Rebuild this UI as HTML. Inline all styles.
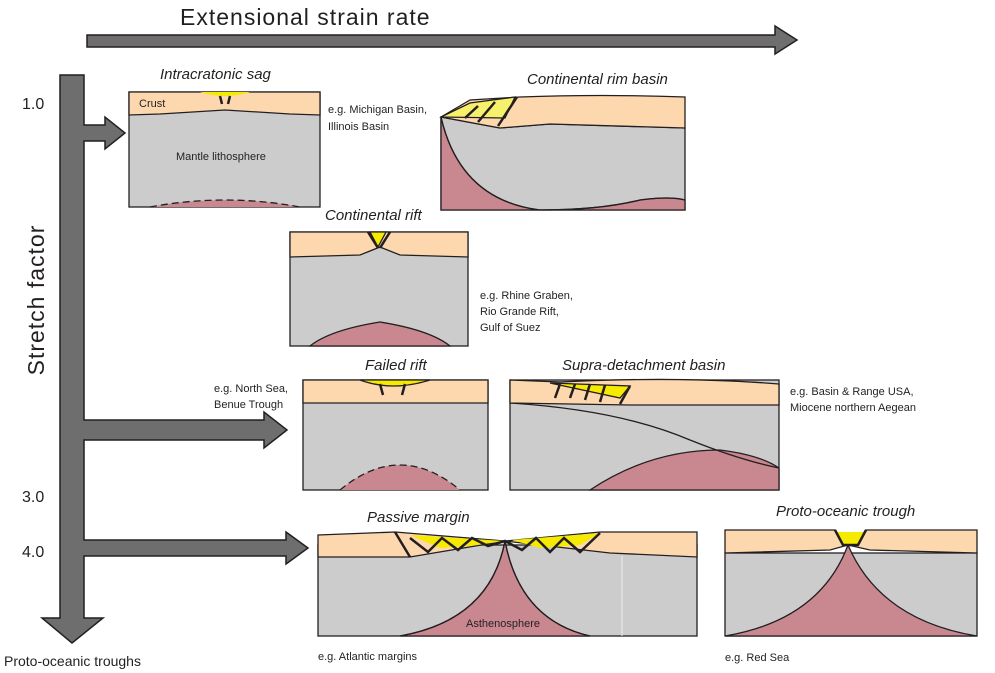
<!DOCTYPE html>
<html><head><meta charset="utf-8"><style>
html,body{margin:0;padding:0;background:#fff}
svg{display:block}
text{font-family:"Liberation Sans",sans-serif;fill:#231f20}
.t{font-style:italic;font-size:15px}
.s{font-size:11px}
</style></head><body>
<svg width="995" height="673" viewBox="0 0 995 673">
<g fill="#6e6e6e" stroke="#231f20" stroke-width="1.5">
<polygon points="87,35 775,35 775,26 797,40 775,54 775,47 87,47"/>
<polygon points="60,75 84,75 84,125 105,125 105,117 125,133 105,149 105,141 84,141 84,420 264,420 264,412 287,430 264,448 264,440 84,440 84,540 286,540 286,532 308,548 286,564 286,556 84,556 84,618 103,618 72,643 42,618 60,618"/>
</g>
<text x="180" y="25" font-size="23" letter-spacing="1">Extensional strain rate</text>
<text transform="translate(44,300) rotate(-90)" text-anchor="middle" font-size="23" letter-spacing="1">Stretch factor</text>
<text x="22" y="109" font-size="16">1.0</text>
<text x="22" y="502" font-size="16">3.0</text>
<text x="22" y="557" font-size="16">4.0</text>
<text x="4" y="666" font-size="14">Proto-oceanic troughs</text>

<g stroke="#231f20" stroke-width="1.3">
<g>
<rect x="129" y="92" width="191" height="115" fill="#cccccc"/>
<path d="M129,92 H320 V115 L290,114 L225,110 L160,114 L129,115 Z" fill="#fdd8ae"/>
<path d="M200,92 Q225,100 250,92 Z" fill="#f6ea00" stroke="none"/>
<path d="M150,207 Q225,193 300,207 Z" fill="#c98890" stroke="none"/>
<path d="M150,207 Q225,193 300,207" fill="none" stroke-dasharray="7,4"/>
<path d="M220,96 L222,104 M230,96 L228,104" stroke-width="2.5"/>
</g>
<g>
<path d="M441,117 L500,128 L550,124 L685,128 V210 L441,210 Z" fill="#cccccc"/>
<path d="M441,117 Q460,200 540,210 Q600,210 640,200 Q670,196 685,200 V210 H441 Z" fill="#c98890"/>
<path d="M441,117 Q460,200 540,210 Q600,210 640,200 Q670,196 685,200" fill="none"/>
<path d="M441,117 L470,100 L520,97 Q600,94 685,97 V128 L550,124 L500,128 Z" fill="#fdd8ae"/>
<path d="M441,117 L470,103 L515,97 L505,118 Z" fill="#f7f06a"/>
<path d="M465,118 L478,106 M478,122 L495,102 M498,126 L517,97" stroke-width="2.5"/>
</g>
<g>
<rect x="290" y="232" width="178" height="114" fill="#cccccc"/>
<path d="M310,346 Q330,330 380,322 Q430,330 450,346 Z" fill="#c98890"/>
<path d="M290,232 H468 V257 L400,255 L380,247 L360,255 L290,257 Z" fill="#fdd8ae"/>
<path d="M370,232 L378,247 L386,232 Z" fill="#f6ea00"/>
<path d="M368,232 L378,248 M390,232 L380,248" stroke-width="2.5"/>
</g>
<g>
<rect x="303" y="380" width="185" height="110" fill="#cccccc"/>
<path d="M340,490 Q400,440 460,490 Z" fill="#c98890" stroke="none"/>
<path d="M340,490 Q400,440 460,490" fill="none" stroke-dasharray="7,4"/>
<path d="M303,380 H488 V403 L303,403 Z" fill="#fdd8ae"/>
<path d="M360,380 Q392,392 430,380 Z" fill="#f6ea00"/>
<path d="M380,384 L383,395 M405,384 L402,395" stroke-width="2.5"/>
</g>
<g>
<rect x="510" y="380" width="269" height="110" fill="#cccccc"/>
<path d="M590,490 Q650,450 720,450 Q760,455 779,468 V490 Z" fill="#c98890"/>
<path d="M510,403 Q620,410 690,440 Q740,460 779,468" fill="none"/>
<path d="M510,380 L560,382 Q680,376 779,384 V405 L630,405 L510,403 Z" fill="#fdd8ae"/>
<path d="M550,383 L630,386 L620,398 Z" fill="#f6ea00"/>
<path d="M560,384 L555,398 M575,384 L570,398 M590,384 L585,400 M605,385 L600,402 M630,386 L620,404" stroke-width="2.5"/>
</g>
<g>
<rect x="318" y="545" width="379" height="91" fill="#cccccc"/>
<line x1="622" y1="556" x2="622" y2="636" stroke="#eee" stroke-width="1"/>
<path d="M400,636 Q490,620 505,541 Q520,620 590,636 Z" fill="#c98890"/>
<path d="M400,636 Q490,620 505,541 Q520,620 590,636" fill="none"/>
<path d="M318,535 L395,532 L505,541 L600,532 L697,532 V557 L610,553 L505,541 L410,557 L318,557 Z" fill="#fdd8ae"/>
<path d="M410,535 L505,541 L470,546 L440,548 Z M512,540 L600,533 L580,545 L540,548 Z" fill="#f6ea00" stroke="none"/>
<path d="M395,532 L410,557 M410,538 L428,552 L442,538 L458,550 L472,538 L488,546 L505,541 L522,550 L536,538 L550,552 L564,538 L580,552 L600,533" fill="none" stroke-width="2.5"/>
</g>
<g>
<rect x="725" y="553" width="252" height="83" fill="#cccccc"/>
<path d="M725,636 Q820,620 848,545 Q880,620 977,636 Z" fill="#c98890"/>
<path d="M725,530 H835 L843,545 H858 L866,530 H977 V553 L870,550 L848,545 L830,550 L725,553 Z" fill="#fdd8ae"/>
<path d="M835,532 L843,545 H858 L866,532 Z" fill="#f6ea00" stroke="none"/>
<path d="M835,530 L843,545 H858 L866,530" fill="none" stroke-width="2.5"/>
</g>
</g>

<text class="t" x="160" y="79">Intracratonic sag</text>
<text class="t" x="527" y="84">Continental rim basin</text>
<text class="t" x="325" y="220">Continental rift</text>
<text class="t" x="365" y="370">Failed rift</text>
<text class="t" x="562" y="370">Supra-detachment basin</text>
<text class="t" x="367" y="522">Passive margin</text>
<text class="t" x="776" y="516">Proto-oceanic trough</text>

<text class="s" x="139" y="107">Crust</text>
<text class="s" x="176" y="160">Mantle lithosphere</text>
<text class="s" x="466" y="627">Asthenosphere</text>
<text class="s" x="328" y="113">e.g. Michigan Basin,</text>
<text class="s" x="328" y="130">Illinois Basin</text>
<text class="s" x="480" y="299">e.g. Rhine Graben,</text>
<text class="s" x="480" y="315">Rio Grande Rift,</text>
<text class="s" x="480" y="331">Gulf of Suez</text>
<text class="s" x="214" y="392">e.g. North Sea,</text>
<text class="s" x="214" y="408">Benue Trough</text>
<text class="s" x="790" y="395">e.g. Basin &amp; Range USA,</text>
<text class="s" x="790" y="411">Miocene northern Aegean</text>
<text class="s" x="318" y="660">e.g.  Atlantic margins</text>
<text class="s" x="725" y="661">e.g. Red Sea</text>
</svg>
</body></html>
